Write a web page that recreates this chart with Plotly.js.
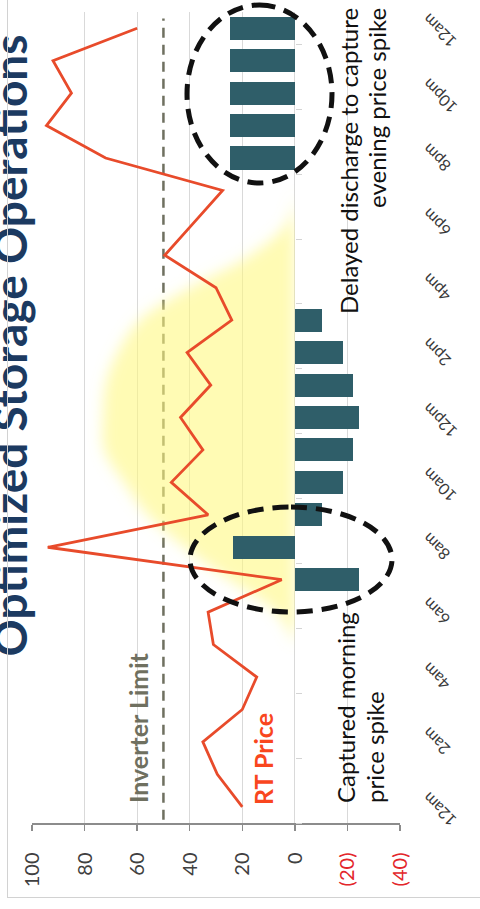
<!DOCTYPE html>
<html>
<head>
<meta charset="utf-8">
<script src="https://cdn.plot.ly/plotly-3.0.1.min.js"></script>
<style>
  html, body { margin: 0; padding: 0; width: 480px; height: 909px; overflow: hidden; background: #ffffff; }
  /* The chart is laid out landscape and turned a quarter turn counter-clockwise. */
  #stage { position: absolute; left: 0; top: 0; width: 909px; height: 480px;
           transform-origin: 0 0; transform: translateY(909px) rotate(-90deg); }
  #chart { position: absolute; left: 0; top: 0; width: 909px; height: 480px; }
  #frame { position: absolute; left: 11px; top: 7px; width: 930px; height: 500px;
           border: 1.5px solid #d2d2d2; pointer-events: none; }
</style>
</head>
<body>
<div id="stage"><div id="chart"></div><div id="frame"></div></div>
<script>
// Hour of day (0 = midnight, 24 = next midnight)
const hours = [0,1,2,3,4,5,6,7,8,9,10,11,12,13,14,15,16,17,18,19,20,21,22,23,24];

// Real-time price, $/MWh
const rtPrice = [20, 29.5, 35, 20, 14.5, 31, 33, 5, 94, 33, 47, 35, 43.5, 32, 41, 24, 30, 49.5, 38.5, 27.5, 72, 94.5, 85, 92, 60];

// Storage dispatch: positive = discharge, negative = charge
const storage = [0, 0, 0, 0, 0, 0, 0, -24.4, 23.7, -10.3, -18.2, -22, -24.5, -22, -18.2, -10.3, 0, 0, 0, 0, 24.7, 24.7, 24.7, 24.7, 24.7];

// Solar output profile
const solarHours  = [5, 6, 7, 8, 9, 10, 11, 12, 13, 14, 15, 16, 17, 18, 19];
const solarOutput = [0, 7, 25, 42, 56, 65, 72.5, 73, 72, 67.5, 59, 40, 17, 3, 0];

const inverterLimit = 50;

// Axis ticks
const labelHours = [0, 2, 4, 6, 8, 10, 12, 14, 16, 18, 20, 22, 24];
const hourLabels = ['12am','2am','4am','6am','8am','10am','12pm','2pm','4pm','6pm','8pm','10pm','12am'];
const valueTicks  = [100, 80, 60, 40, 20, 0, -20, -40];
const valueLabels = ['100', '80', '60', '40', '20', '0', '(20)', '(40)'];

const valueMin = -40, valueMax = 100;
const hourRange = [-0.5, 24.5];
const NEG_RED = '#e3262b';

const tickText = valueLabels.map((t, i) =>
  valueTicks[i] < 0 ? '<span style="color:' + NEG_RED + '">' + t + '</span>' : t);

const traces = [
  {
    type: 'scatter', mode: 'lines', x: solarHours, y: solarOutput,
    xaxis: 'x', yaxis: 'y',
    line: { width: 0, shape: 'spline', smoothing: 1 },
    fill: 'tozeroy', fillcolor: 'rgba(255,248,125,0.58)',
    hoverinfo: 'skip'
  },
  {
    type: 'bar', x: hours, y: storage, xaxis: 'x2', yaxis: 'y',
    width: 0.71,
    marker: { color: '#2f5e69', line: { width: 0 } },
    hoverinfo: 'skip'
  },
  {
    type: 'scatter', mode: 'lines', x: hours, y: rtPrice, xaxis: 'x2', yaxis: 'y',
    line: { color: '#e84b2b', width: 2.8 },
    hoverinfo: 'skip'
  }
];

// pixel helpers for paper placement of callouts (plot area 86..897 x 32..400)
const PL = 86, PW = 811, PT = 32, PH = 368;
const px = v => (v - PL) / PW;
const py = v => (PT + PH - v) / PH;

const layout = {
  width: 909, height: 480,
  margin: { l: PL, r: 909 - PL - PW, t: PT, b: 480 - PT - PH, pad: 0 },
  paper_bgcolor: '#ffffff', plot_bgcolor: 'rgba(0,0,0,0)',
  showlegend: false, bargap: 0,
  font: { family: 'Lato, "Open Sans", sans-serif', color: '#404040' },
  title: {
    text: '<b>Optimized Storage Operations</b>',
    font: { family: 'Lato, sans-serif', size: 46, color: '#1c3a61' },
    x: 0.62, xanchor: 'center', y: 0.978, yanchor: 'middle', automargin: false
  },
  xaxis: {
    range: hourRange, tickmode: 'array', tickvals: labelHours, ticktext: hourLabels,
    tickangle: -45, ticks: '', showgrid: false, zeroline: false, showline: false,
    tickfont: { size: 16, color: '#3a3a3a' },
    ticklabelstandoff: 15, ticklabelshift: 10, fixedrange: true
  },
  xaxis2: {
    overlaying: 'x', range: hourRange, anchor: 'free',
    position: (0 - valueMin) / (valueMax - valueMin),
    tickmode: 'array', tickvals: labelHours.map(h => h - 0.5),
    ticks: 'outside', ticklen: 6, tickwidth: 1, tickcolor: '#d4d4d4',
    showticklabels: false, showgrid: false, zeroline: false, showline: false, fixedrange: true
  },
  yaxis: {
    range: [valueMin, valueMax], tickmode: 'array', tickvals: valueTicks, ticktext: tickText,
    showgrid: true, gridcolor: '#d9d9d9', gridwidth: 1, zeroline: false,
    showline: true, linecolor: '#8c8c8c', linewidth: 1.5,
    ticks: 'outside', ticklen: 6, tickcolor: '#8c8c8c', tickwidth: 1.5,
    tickfont: { size: 20, color: '#404040' }, ticklabelstandoff: 18, fixedrange: true
  },
  shapes: [
    { type: 'line', xref: 'paper', yref: 'y', x0: 0.004, x1: 0.992, y0: inverterLimit, y1: inverterLimit,
      line: { color: '#6f7060', width: 2.5, dash: '10px,7px' }, layer: 'between' },
    { type: 'circle', xref: 'paper', yref: 'paper', x0: px(726), x1: px(904), y0: py(332), y1: py(187),
      line: { color: '#111111', width: 5, dash: '16px,9px' }, layer: 'above' },
    { type: 'circle', xref: 'paper', yref: 'paper', x0: px(297), x1: px(402), y0: py(392), y1: py(190),
      line: { color: '#111111', width: 5, dash: '16px,9px' }, layer: 'above' }
  ],
  annotations: [
    { text: '<b>Inverter Limit</b>', xref: 'paper', yref: 'paper', x: px(104), y: py(138.3),
      xanchor: 'left', yanchor: 'middle', showarrow: false,
      font: { family: 'Lato, sans-serif', size: 25, color: '#6f7060' } },
    { text: '<b>RT Price</b>', xref: 'paper', yref: 'paper', x: px(102), y: py(263.3),
      xanchor: 'left', yanchor: 'middle', showarrow: false,
      font: { family: 'Lato, sans-serif', size: 25, color: '#f9461e' } },
    { text: 'Captured morning', xref: 'paper', yref: 'paper', x: px(104), y: py(345),
      xanchor: 'left', yanchor: 'middle', showarrow: false,
      font: { family: 'Lato, sans-serif', size: 24, color: '#111111' } },
    { text: 'price spike', xref: 'paper', yref: 'paper', x: px(104), y: py(374.7),
      xanchor: 'left', yanchor: 'middle', showarrow: false,
      font: { family: 'Lato, sans-serif', size: 24, color: '#111111' } },
    { text: 'Delayed discharge to capture', xref: 'paper', yref: 'paper', x: px(903), y: py(348.7),
      xanchor: 'right', yanchor: 'middle', showarrow: false,
      font: { family: 'Lato, sans-serif', size: 24, color: '#111111' } },
    { text: 'evening price spike', xref: 'paper', yref: 'paper', x: px(903), y: py(376.7),
      xanchor: 'right', yanchor: 'middle', showarrow: false,
      font: { family: 'Lato, sans-serif', size: 24, color: '#111111' } }
  ]
};

const gd = document.getElementById('chart');
Plotly.newPlot(gd, traces, layout, { staticPlot: true, displayModeBar: false }).then(() => {
  // Soft glow on the solar area; the filter region stops at the zero line so that edge stays crisp.
  const ns = 'http://www.w3.org/2000/svg';
  const svg = gd.querySelector('svg.main-svg');
  let defs = svg.querySelector('defs');
  if (!defs) { defs = document.createElementNS(ns, 'defs'); svg.insertBefore(defs, svg.firstChild); }
  const filter = document.createElementNS(ns, 'filter');
  filter.setAttribute('id', 'solar-soft-edge');
  filter.setAttribute('x', '-0.25'); filter.setAttribute('y', '-0.25');
  filter.setAttribute('width', '1.5'); filter.setAttribute('height', '1.25');
  const blur = document.createElementNS(ns, 'feGaussianBlur');
  blur.setAttribute('stdDeviation', '7');
  filter.appendChild(blur);
  defs.appendChild(filter);
  const fill = gd.querySelector('.scatterlayer .trace .js-fill');
  if (fill) fill.setAttribute('filter', 'url(#solar-soft-edge)');
});
</script>
</body>
</html>
